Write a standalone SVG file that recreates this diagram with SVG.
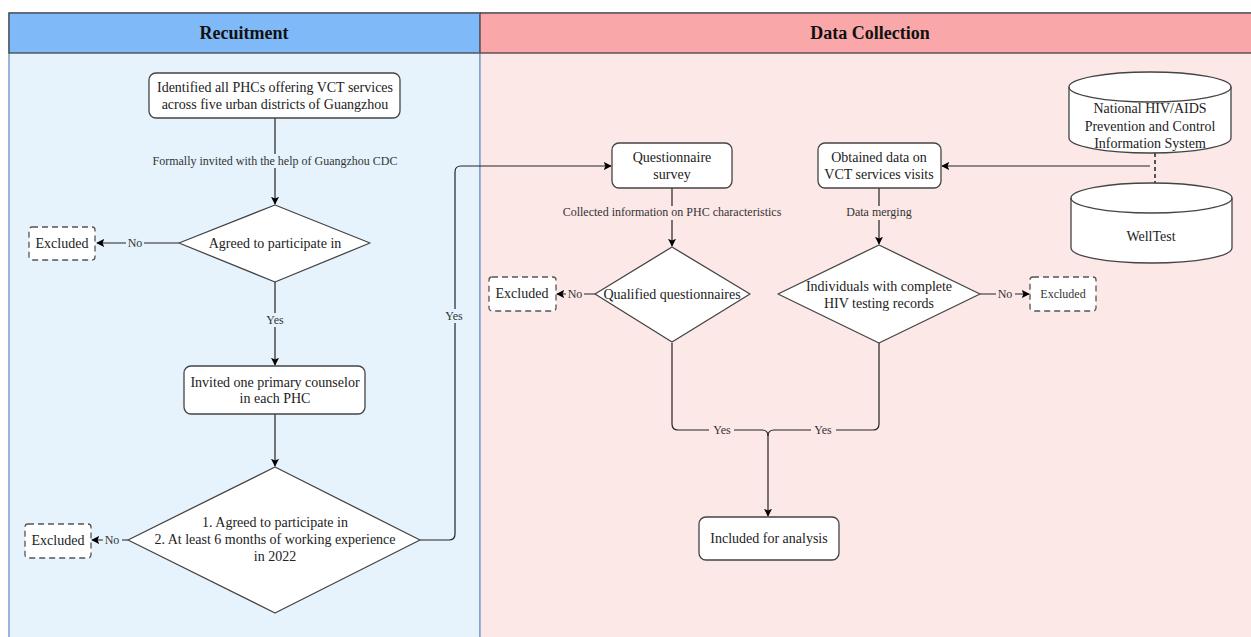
<svg xmlns="http://www.w3.org/2000/svg" width="1251" height="637" viewBox="0 0 1251 637">
<defs>
<marker id="ah" viewBox="0 0 10 10" refX="9" refY="5" markerWidth="8" markerHeight="8" orient="auto" markerUnits="userSpaceOnUse"><path d="M0,0 L10,5 L0,10 L2,5 Z" fill="#000"/></marker>
<style>
.t{font-family:"Liberation Serif","Times New Roman",serif;font-size:14px;fill:#222;text-anchor:middle}
.l{font-family:"Liberation Serif","Times New Roman",serif;font-size:12px;fill:#333;text-anchor:middle}
.h{font-family:"Liberation Serif","Times New Roman",serif;font-size:18px;font-weight:bold;fill:#111;text-anchor:middle}
.box{fill:#fff;stroke:#444;stroke-width:1.3}
.ex{fill:#fff;stroke:#555;stroke-width:1.3;stroke-dasharray:6 4}
.c{fill:none;stroke:#222;stroke-width:1.2}
.lb{fill:#e6f3fd}
.lr{fill:#fde8e8}
</style>
</defs>
<rect width="1251" height="637" fill="#fff"/>
<g id="lane-recruitment">
<rect x="9" y="13" width="471" height="640" fill="#e6f3fd" stroke="#7f9fd0" stroke-width="1.5"/>
<rect x="9" y="13" width="471" height="40" fill="#80b9f7" stroke="#444" stroke-width="1.3"/>
<text class="h" x="244" y="39">Recuitment</text>
</g>
<g id="lane-data">
<rect x="480" y="13" width="790" height="640" fill="#fde8e8" stroke="#7f9fd0" stroke-width="1.5"/>
<rect x="480" y="13" width="790" height="40" fill="#f9a7a8" stroke="#444" stroke-width="1.3"/>
<text class="h" x="870" y="39">Data Collection</text>
</g>
<g id="connectors">
<line class="c" x1="275" y1="118" x2="275" y2="204" marker-end="url(#ah)"/>
<rect x="152" y="154" width="246" height="14" class="lb"/>
<text class="l" x="275" y="165">Formally invited with the help of Guangzhou CDC</text>
<line class="c" x1="179" y1="243" x2="97" y2="243" marker-end="url(#ah)"/>
<rect x="126" y="237" width="18" height="13" class="lb"/>
<text class="l" x="135" y="247">No</text>
<line class="c" x1="275" y1="282" x2="275" y2="365" marker-end="url(#ah)"/>
<rect x="263" y="313" width="24" height="14" class="lb"/>
<text class="l" x="275" y="324">Yes</text>
<line class="c" x1="275" y1="414" x2="275" y2="466" marker-end="url(#ah)"/>
<line class="c" x1="128" y1="540" x2="92" y2="540" marker-end="url(#ah)"/>
<rect x="103" y="534" width="19" height="13" class="lb"/>
<text class="l" x="112" y="544">No</text>
<path class="c" d="M420,540 H449 Q455,540 455,534 V172 Q455,166 461,166 H611" marker-end="url(#ah)"/>
<rect x="443" y="309" width="24" height="14" class="lb"/>
<text class="l" x="454" y="320">Yes</text>
<line class="c" x1="672" y1="188" x2="672" y2="246" marker-end="url(#ah)"/>
<rect x="561" y="206" width="222" height="14" class="lr"/>
<text class="l" x="672" y="216">Collected information on PHC characteristics</text>
<line class="c" x1="595" y1="294" x2="557" y2="294" marker-end="url(#ah)"/>
<rect x="566" y="288" width="18" height="13" class="lr"/>
<text class="l" x="575" y="298">No</text>
<line x1="1155" y1="153" x2="1155" y2="183" stroke="#222" stroke-width="1.5" stroke-dasharray="4 3"/>
<line class="c" x1="1150" y1="166" x2="942" y2="166" marker-end="url(#ah)"/>
<line class="c" x1="879" y1="188" x2="879" y2="244" marker-end="url(#ah)"/>
<rect x="846" y="206" width="66" height="14" class="lr"/>
<text class="l" x="879" y="216">Data merging</text>
<line class="c" x1="980" y1="294" x2="1029" y2="294" marker-end="url(#ah)"/>
<rect x="996" y="288" width="19" height="13" class="lr"/>
<text class="l" x="1005" y="298">No</text>
<path class="c" d="M672,343 V424 Q672,430 678,430 H762 Q768,430 768,436 V516" marker-end="url(#ah)"/>
<path class="c" d="M879,343 V424 Q879,430 873,430 H774 Q768,430 768,436"/>
<rect x="709" y="424" width="25" height="14" class="lr"/>
<text class="l" x="722" y="434">Yes</text>
<rect x="811" y="424" width="25" height="14" class="lr"/>
<text class="l" x="823" y="434">Yes</text>
</g>
<g id="n-identify">
<rect class="box" x="149" y="73" width="251" height="45" rx="7"/>
<text class="t" x="275" y="92">Identified all PHCs offering VCT services</text>
<text class="t" x="275" y="109">across five urban districts of Guangzhou</text>
</g>
<g id="n-agree1">
<path class="box" d="M275,205 L370,243 L275,282 L179,243 Z" stroke-linejoin="round"/>
<text class="t" x="275" y="248">Agreed to participate in</text>
</g>
<g id="n-excl1">
<rect class="ex" x="29" y="227" width="66" height="33" rx="3"/>
<text class="t" x="62" y="248">Excluded</text>
</g>
<g id="n-invite">
<rect class="box" x="184" y="366" width="181" height="48" rx="7"/>
<text class="t" x="275" y="387">Invited one primary counselor</text>
<text class="t" x="275" y="403">in each PHC</text>
</g>
<g id="n-agree2">
<path class="box" d="M275,467 L420,540 L275,613 L128,540 Z" stroke-linejoin="round"/>
<text class="t" x="275" y="527">1. Agreed to participate in</text>
<text class="t" x="275" y="544">2. At least 6 months of working experience</text>
<text class="t" x="275" y="561">in 2022</text>
</g>
<g id="n-excl2">
<rect class="ex" x="25" y="524" width="66" height="34" rx="3"/>
<text class="t" x="58" y="545">Excluded</text>
</g>
<g id="n-quest">
<rect class="box" x="612" y="143" width="120" height="45" rx="7"/>
<text class="t" x="672" y="162">Questionnaire</text>
<text class="t" x="672" y="179">survey</text>
</g>
<g id="n-qualified">
<path class="box" d="M672,247 L750,294 L672,342 L595,294 Z" stroke-linejoin="round"/>
<text class="t" x="672" y="299">Qualified questionnaires</text>
</g>
<g id="n-excl3">
<rect class="ex" x="489" y="277" width="67" height="34" rx="3"/>
<text class="t" x="522" y="298">Excluded</text>
</g>
<g id="n-obtained">
<rect class="box" x="818" y="143" width="123" height="45" rx="7"/>
<text class="t" x="879" y="162">Obtained data on</text>
<text class="t" x="879" y="179">VCT services visits</text>
</g>
<g id="n-national">
<path class="box" d="M1069,87 A81,15 0 0 1 1231,87 V138 A81,15 0 0 1 1069,138 Z"/>
<path d="M1069,87 A81,15 0 0 0 1231,87" fill="none" stroke="#444" stroke-width="1.3"/>
<text class="t" x="1150" y="113">National HIV/AIDS</text>
<text class="t" x="1150" y="131">Prevention and Control</text>
<text class="t" x="1150" y="148">Information System</text>
</g>
<g id="n-welltest">
<path class="box" d="M1071,198 A80.5,15 0 0 1 1232,198 V248 A80.5,15 0 0 1 1071,248 Z"/>
<path d="M1071,198 A80.5,15 0 0 0 1232,198" fill="none" stroke="#444" stroke-width="1.3"/>
<text class="t" x="1151" y="241">WellTest</text>
</g>
<g id="n-individuals">
<path class="box" d="M879,245 L980,294 L879,343 L778,294 Z" stroke-linejoin="round"/>
<text class="t" x="879" y="291">Individuals with complete</text>
<text class="t" x="879" y="308">HIV testing records</text>
</g>
<g id="n-excl4">
<rect class="ex" x="1030" y="277" width="66" height="34" rx="3"/>
<text class="l" x="1063" y="298">Excluded</text>
</g>
<g id="n-included">
<rect class="box" x="699" y="517" width="140" height="43" rx="7"/>
<text class="t" x="769" y="543">Included for analysis</text>
</g>
</svg>
